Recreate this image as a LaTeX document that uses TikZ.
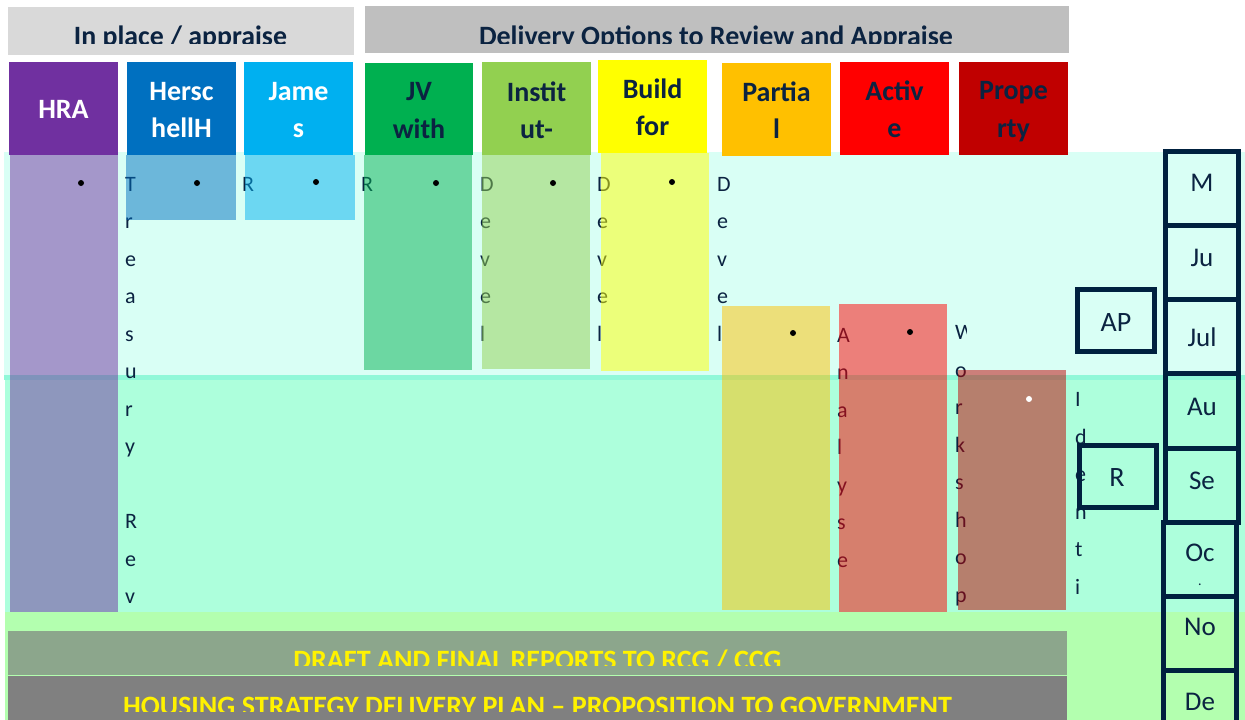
\documentclass[tikz,border=0pt]{standalone}
\usepackage{fontspec}
\setmainfont{Carlito}
\usepackage{graphicx}
\definecolor{navy}{HTML}{0B2341}
\definecolor{frame}{HTML}{00213F}
\definecolor{cyanbg}{HTML}{D9FFF5}
\definecolor{mintbg}{HTML}{ADFFDC}
\definecolor{seam}{HTML}{90F8D8}
\definecolor{greenbg}{HTML}{B3FFAF}
\definecolor{greyA}{HTML}{D9D9D9}
\definecolor{greyB}{HTML}{BFBFBF}
\definecolor{cHRA}{HTML}{7030A0}
\definecolor{cHer}{HTML}{0070C0}
\definecolor{cJam}{HTML}{00B0F0}
\definecolor{cJV}{HTML}{00B050}
\definecolor{cIns}{HTML}{92D050}
\definecolor{cBld}{HTML}{FFFF00}
\definecolor{cPar}{HTML}{FFC000}
\definecolor{cAct}{HTML}{FF0000}
\definecolor{cPro}{HTML}{C00000}
\definecolor{draftbox}{HTML}{8CA68C}
\definecolor{planbox}{HTML}{808080}
\newcommand\stackletters[4]{%
  \foreach \ltr [count=\k from 0] in {#4}{%
    \node[vl] (#1-\k) at (#2,{#3+37.5*\k}) {\ltr};}}
\begin{document}
\begin{tikzpicture}[x=1pt,y=-1pt,
  vl/.style={font=\fontsize{22}{22}\selectfont, text=navy, inner sep=0, anchor=base west},
  hdr/.style={font=\fontsize{28}{28}\selectfont\bfseries, inner sep=0, anchor=base},
  ttl/.style={font=\fontsize{28}{28}\selectfont\bfseries, text=navy, inner sep=0, anchor=base},
  low/.style={font=\fontsize{28}{28}\selectfont\bfseries, text=yellow, inner sep=0, anchor=base},
  mtext/.style={font=\fontsize{27}{27}\selectfont, text=navy, inner sep=0, anchor=base},
  mbox/.style={draw=frame, line width=5pt},
  bar/.style={fill opacity=0.5},
  dot/.style={fill=black}]
\useasboundingbox (0,0) rectangle (1245,720);
\clip (0,0) rectangle (1245,720);

% background bands
\fill[cyanbg] (4,152) rectangle (1245,377);
\fill[mintbg] (5,377) rectangle (1245,612);
\fill[seam] (4,375) rectangle (1245,380);
\fill[greenbg] (5,612) rectangle (1245,720);

% stacked one-letter-per-line labels
\stackletters{tr}{125}{191}{T,r,e,a,s,u,r,y,{},R,e,v}
\stackletters{ja}{242}{191}{R}
\stackletters{jv}{361}{191}{R}
\stackletters{dA}{480}{191}{D,e,v,e,l}
\stackletters{dB}{597}{191}{D,e,v,e,l}
\stackletters{dC}{717}{191}{D,e,v,e,l}
\stackletters{an}{837}{342}{A,n,a,l,y,s,e}
\begin{scope}
  \clip (940,300) rectangle (966,620);
  \stackletters{ws}{955}{339.5}{W,o,r,k,s,h,o,p}
\end{scope}
\stackletters{id}{1075}{406.5}{I,d,e,n,t,i}

% translucent column bars
\fill[bar, cHRA] (10,155) rectangle (118,612);
\fill[bar, cHer] (126,155) rectangle (236,220);
\fill[bar, cJam] (245,155) rectangle (355,220);
\fill[bar, cJV]  (364,155) rectangle (472,370);
\fill[bar, cIns] (482,155) rectangle (590,369);
\fill[bar, cBld] (601,153) rectangle (709,371);
\fill[bar, cPar] (722,306) rectangle (830,610);
\fill[bar, cAct] (839,304) rectangle (947,612);
\fill[bar, cPro] (958,370) rectangle (1066,610);

% bullets
\foreach \bx/\by in {81/183, 197/183, 316/182, 436/183, 553/183, 672/182, 793/333, 910/332}
  \fill[dot] (\bx,\by) circle (3);
\fill[white] (1029,399) circle (3);

% column headers
\fill[cHRA] (9,62) rectangle (118,155);
\fill[cHer] (127,62) rectangle (236,155);
\fill[cJam] (244,62) rectangle (353,155);
\fill[cJV]  (365,63) rectangle (473,155);
\fill[cIns] (482,62) rectangle (591,155);
\fill[cBld] (598,60) rectangle (707,153);
\fill[cPar] (722,63) rectangle (831,156);
\fill[cAct] (840,62) rectangle (949,155);
\fill[cPro] (959,62) rectangle (1068,155);
\node[hdr, text=white] (h1) at (63.5,118) {HRA};
\node[hdr, text=white] (h2a) at (181.5,100) {Hersc};
\node[hdr, text=white] (h2b) at (181.5,137) {hellH};
\node[hdr, text=white] (h3a) at (298.5,100) {Jame};
\node[hdr, text=white] (h3b) at (298.5,137) {s};
\node[hdr, text=navy] (h4a) at (419,100) {JV};
\node[hdr, text=navy] (h4b) at (419,138) {with};
\node[hdr, text=navy] (h5a) at (536.5,101) {Instit};
\node[hdr, text=navy] (h5b) at (536.5,138) {ut-};
\node[hdr, text=navy] (h6a) at (652.5,98) {Build};
\node[hdr, text=navy] (h6b) at (652.5,135) {for};
\node[hdr, text=navy] (h7a) at (776.5,101) {Partia};
\node[hdr, text=navy] (h7b) at (776.5,138) {l};
\node[hdr, text=navy] (h8a) at (894.5,100) {Activ};
\node[hdr, text=navy] (h8b) at (894.5,137) {e};
\node[hdr, text=navy] (h9a) at (1013.5,99) {Prope};
\node[hdr, text=navy] (h9b) at (1013.5,137) {rty};

% group titles (text cut off at the lower edge)
\fill[greyA] (8,7) rectangle (354,55);
\fill[greyB] (365,6) rectangle (1069,53);
\begin{scope}
  \clip (8,7) rectangle (354,43.5);
  \node[ttl] (g1) at (180.5,45) {\resizebox{213pt}{\height}{In place / appraise}};
\end{scope}
\begin{scope}
  \clip (365,6) rectangle (1069,43.5);
  \node[ttl] (g2) at (716,45) {\resizebox{474pt}{\height}{Delivery Options to Review and Appraise}};
\end{scope}

% side boxes
\draw[mbox] (1077.5,289.5) rectangle (1154.5,351.5);
\node[mtext, font=\fontsize{28}{28}\selectfont] (ap) at (1116,331.5) {AP};
\draw[mbox] (1079.5,445.5) rectangle (1156.5,507.5);
\node[mtext, font=\fontsize{28}{28}\selectfont] (rv) at (1117,486.5) {R};

% month column
\foreach \ya/\yb/\dx in {151/225/0, 225/299/0, 299/373/0, 373/448/0, 448/522/0, 522/596/-2, 596/670/-2, 670/745/-2}
  \draw[mbox] ({1165.5+\dx},\ya) rectangle ({1238.5+\dx},\yb);
\node[mtext] (m1) at (1202,191.5) {M};
\node[mtext] (m2) at (1202,266.5) {Ju};
\node[mtext] (m3) at (1202,346.5) {Jul};
\node[mtext] (m4) at (1202,415) {Au};
\node[mtext] (m5) at (1202,489) {Se};
\node[mtext] (m6) at (1200,561.5) {Oc};
\node[mtext, font=\fontsize{14}{14}\selectfont] (m6b) at (1200,585) {.};
\node[mtext] (m7) at (1200,635) {No};
\node[mtext] (m8) at (1200,710) {De};

% report bars (text cut off at the lower edge)
\fill[draftbox] (8,631) rectangle (1067,675);
\fill[planbox] (8,676) rectangle (1067,720);
\begin{scope}
  \clip (8,631) rectangle (1067,665);
  \node[low] (r1) at (537.5,669) {\resizebox{488pt}{\height}{DRAFT AND FINAL REPORTS TO RCG / CCG}};
\end{scope}
\begin{scope}
  \clip (8,676) rectangle (1067,711);
  \node[low] (r2) at (537.5,715) {\resizebox{829pt}{\height}{HOUSING STRATEGY DELIVERY PLAN – PROPOSITION TO GOVERNMENT}};
\end{scope}
\end{tikzpicture}
\end{document}
